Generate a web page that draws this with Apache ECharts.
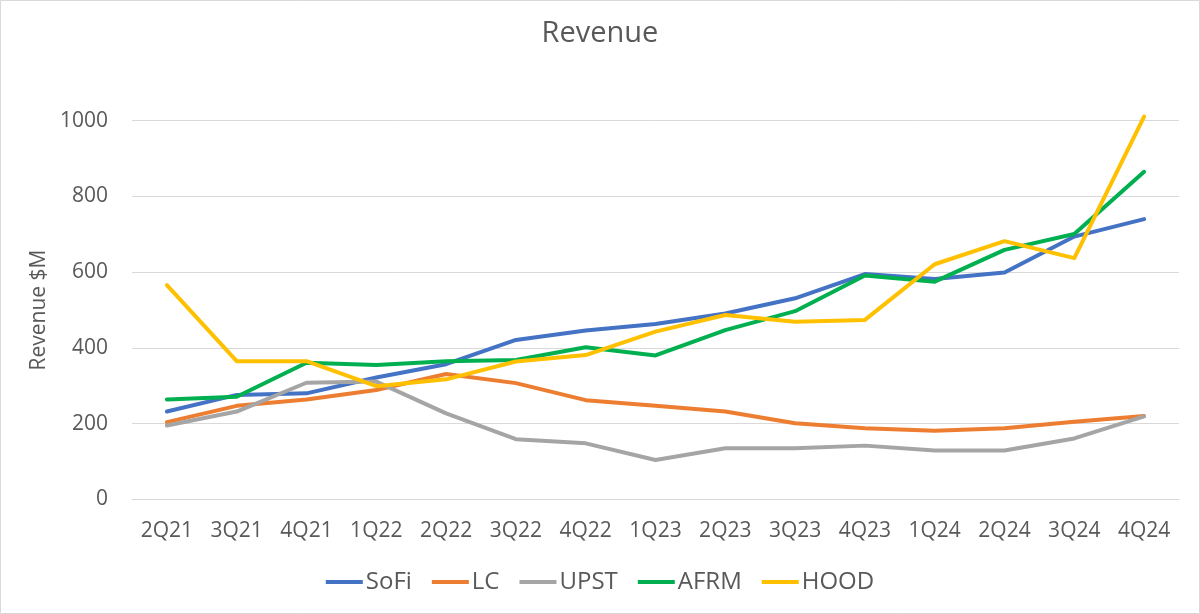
<!DOCTYPE html>
<html>
<head>
<meta charset="utf-8">
<script src="https://cdn.jsdelivr.net/npm/echarts@6/dist/echarts.min.js"></script>
<style>
html,body{margin:0;padding:0;background:#fff;}
#c{width:1200px;height:614px;}
</style>
</head>
<body>
<div id="c"></div>
<script>
const categories = ['2Q21','3Q21','4Q21','1Q22','2Q22','3Q22','4Q22','1Q23','2Q23','3Q23','4Q23','1Q24','2Q24','3Q24','4Q24'];
const sofi = [232, 276, 280, 322, 357, 421, 446, 463, 491, 531, 595, 582, 599, 694, 740];
const lc   = [204, 247, 264, 289, 331, 307, 262, 247, 232, 201, 188, 181, 188, 205, 220];
const upst = [195, 232, 308, 311, 227, 159, 148, 104, 135, 135, 142, 129, 129, 161, 219];
const afrm = [264, 271, 361, 355, 365, 368, 402, 380, 447, 497, 591, 575, 659, 701, 865];
const hood = [566, 365, 365, 299, 317, 364, 381, 443, 487, 469, 474, 621, 682, 637, 1011];
const yTicks = [0, 200, 400, 600, 800, 1000];

const FONT = "'Open Sans', sans-serif";
const TXT = '#595959';
const names = ['SoFi','LC','UPST','AFRM','HOOD'];
const colors = ['#4472C4','#ED7D31','#A5A5A5','#00B050','#FFC000'];
const datas = [sofi, lc, upst, afrm, hood];

const chart = echarts.init(document.getElementById('c'), null, {renderer:'canvas'});
chart.setOption({
  animation: false,
  backgroundColor: '#fff',
  textStyle: {fontFamily: FONT},
  title: {
    text: 'Revenue', left: 'center', top: 14,
    textStyle: {fontFamily: FONT, fontSize: 29, fontWeight: 'normal', color: TXT}
  },
  legend: {
    data: names, left: 'center', top: 565,
    icon: 'rect', itemWidth: 37, itemHeight: 4, itemGap: 20,
    textStyle: {fontFamily: FONT, fontSize: 24, color: TXT, padding: [0,0,0,-2]}
  },
  graphic: [{
    type: 'rect', shape: {x: 0.5, y: 0.5, width: 1199, height: 613},
    style: {fill: 'none', stroke: '#d9d9d9', lineWidth: 1}, silent: true
  }],
  grid: {left: 132, right: 21, top: 120.7, bottom: 114.6, containLabel: false},
  xAxis: {
    type: 'category', data: categories, boundaryGap: true,
    axisLine: {show: true, lineStyle: {color: '#d9d9d9', width: 1}},
    axisTick: {show: false},
    axisLabel: {color: TXT, fontSize: 21, fontFamily: FONT, margin: 21, interval: 0}
  },
  yAxis: {
    type: 'value', min: yTicks[0], max: yTicks[yTicks.length-1], interval: 200,
    name: 'Revenue $M', nameLocation: 'middle', nameGap: 81, nameRotate: 90,
    nameTextStyle: {color: TXT, fontSize: 21, fontFamily: FONT},
    axisLine: {show: false}, axisTick: {show: false},
    axisLabel: {color: TXT, fontSize: 21, fontFamily: FONT, margin: 24, formatter: v => String(v)},
    splitLine: {lineStyle: {color: '#d9d9d9', width: 1}}
  },
  series: names.map((n, i) => ({
    name: n, type: 'line', data: datas[i], clip: false,
    showSymbol: false, symbol: 'none',
    lineStyle: {color: colors[i], width: 4, cap: 'round', join: 'round'},
    itemStyle: {color: colors[i]}
  }))
});
</script>
</body>
</html>
